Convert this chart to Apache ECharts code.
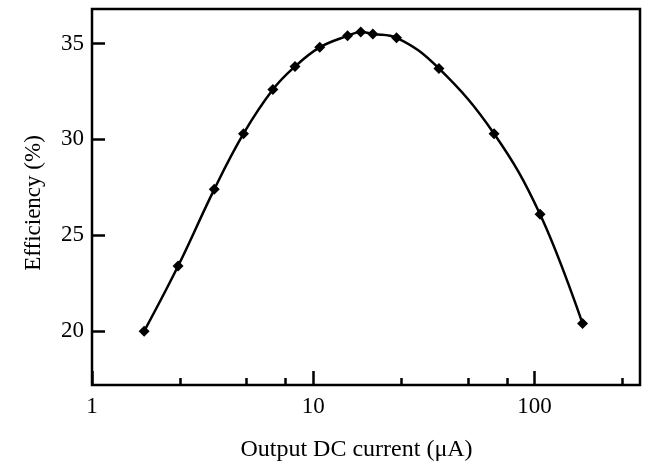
<!DOCTYPE html>
<html>
<head>
<meta charset="utf-8">
<script src="https://cdn.jsdelivr.net/npm/echarts@6/dist/echarts.min.js"></script>
<style>
html,body{margin:0;padding:0;background:#fff;}
#chart{width:646px;height:465px;}
</style>
</head>
<body>
<div id="chart"></div>
<script>
// output DC current (uA), log scale
var currents = [1.72, 2.45, 3.57, 4.84, 6.57, 8.27, 10.7, 14.3, 16.4, 18.6, 23.8, 37.0, 65.7, 106, 165];
// efficiency (%)
var efficiency = [20.0, 23.4, 27.4, 30.3, 32.6, 33.8, 34.8, 35.4, 35.6, 35.5, 35.3, 33.7, 30.3, 26.1, 20.4];

var xMajorTicks = [1, 10, 100];
var xMinorTicks = [2.5, 5, 7.5, 25, 50, 75, 250];
var yTicks = [20, 25, 30, 35];

var font = 'Liberation Serif';

var chart = echarts.init(document.getElementById('chart'));

var points = currents.map(function (c, i) { return [c, efficiency[i]]; });

var option = {
    backgroundColor: '#fff',
    animation: false,
    grid: {
        left: 92, right: 6, top: 9, bottom: 80,
        outerBoundsMode: 'none',
        show: true,
        borderColor: '#000',
        borderWidth: 2.5,
        backgroundColor: 'transparent'
    },
    xAxis: [
        {
            type: 'log',
            min: 1,
            max: 300,
            name: 'Output DC current (\u03bcA)',
            nameLocation: 'middle',
            nameGap: 53,
            nameTextStyle: { fontFamily: font, fontSize: 24, color: '#000', padding: [0, 19, 0, 0] },
            axisLine: { show: false },
            splitLine: { show: false },
            axisTick: {
                inside: true, length: 14,
                lineStyle: { color: '#000', width: 2.5 },
                customValues: xMajorTicks
            },
            axisLabel: {
                fontFamily: font, fontSize: 23, color: '#000', margin: 10,
                customValues: xMajorTicks
            }
        },
        {
            // minor ticks only
            type: 'log',
            min: 1,
            max: 300,
            position: 'bottom',
            axisLine: { show: false },
            splitLine: { show: false },
            axisLabel: { show: false },
            axisTick: {
                inside: true, length: 7,
                lineStyle: { color: '#000', width: 2.5 },
                customValues: xMinorTicks
            }
        }
    ],
    yAxis: {
        type: 'value',
        min: 17.2,
        max: 36.8,
        name: 'Efficiency (%)',
        nameLocation: 'middle',
        nameGap: 47,
        nameTextStyle: { fontFamily: font, fontSize: 23, color: '#000', padding: [0, 12, 0, 0] },
        axisLine: { show: false },
        splitLine: { show: false },
        axisTick: {
            inside: true, length: 13,
            lineStyle: { color: '#000', width: 2.5 },
            customValues: yTicks
        },
        axisLabel: {
            fontFamily: font, fontSize: 23, color: '#000', margin: 8,
            customValues: yTicks
        }
    },
    series: [{
        type: 'line',
        data: points,
        smooth: 0.4,
        symbol: 'diamond',
        symbolSize: 11,
        lineStyle: { color: '#000', width: 2.5 },
        itemStyle: { color: '#000' }
    }]
};

chart.setOption(option);
</script>
</body>
</html>
